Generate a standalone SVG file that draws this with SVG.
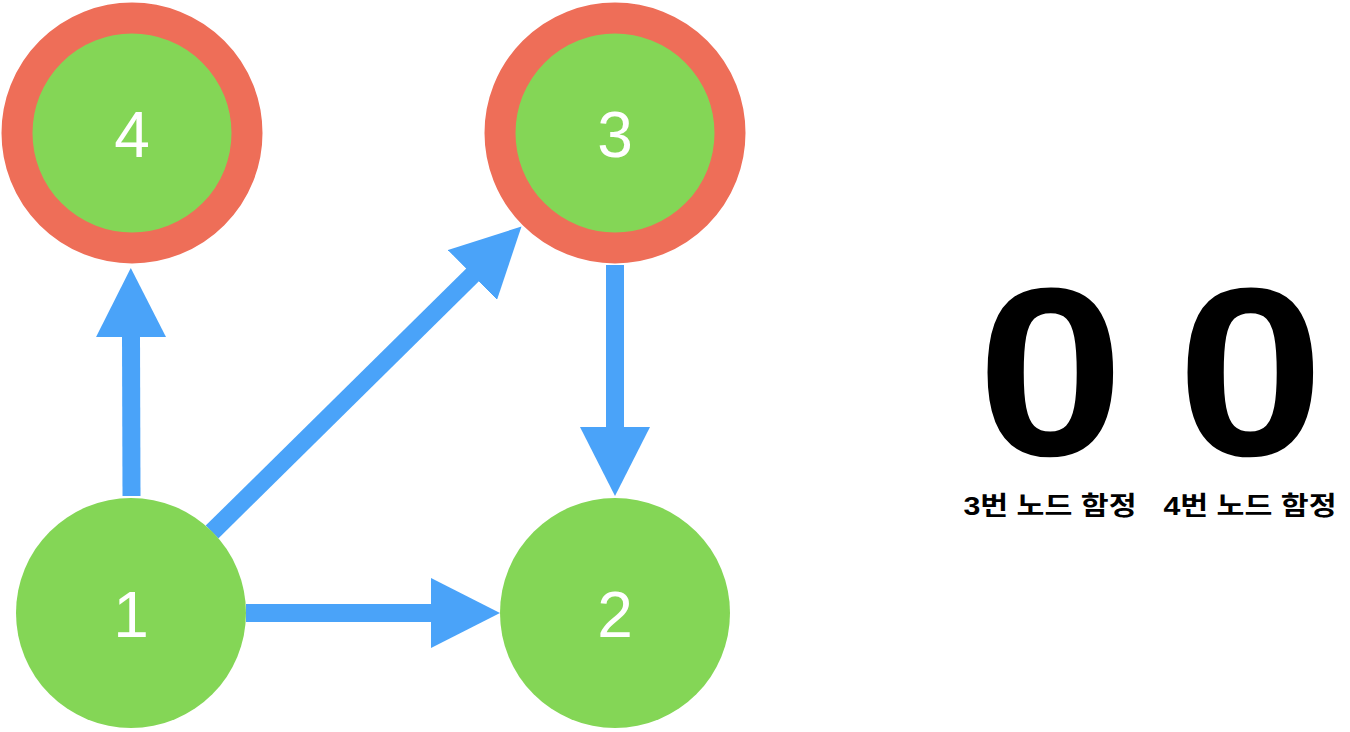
<svg xmlns="http://www.w3.org/2000/svg" width="1350" height="732" viewBox="0 0 1350 732">
<style>
.bg{fill:#ffffff}
.node{fill:#84D656}
.trap{fill:#84D656;stroke:#EE6E58;stroke-width:31}
.num{font-family:"Liberation Sans",Arial,sans-serif;font-size:64px;fill:#ffffff;text-anchor:middle}
.edge{stroke:#4AA3F9;stroke-width:18;fill:none;marker-end:url(#arrow)}
.big{font-family:"Liberation Sans",Arial,sans-serif;font-weight:bold;font-size:240px;fill:#000000;text-anchor:middle}
.lbl{font-family:"Liberation Sans","Noto Sans CJK KR",sans-serif;font-weight:bold;font-size:26px;fill:#000000;text-anchor:middle}
</style>
<defs>
<marker id="arrow" markerUnits="userSpaceOnUse" markerWidth="70" markerHeight="70" refX="1" refY="35" orient="auto" viewBox="0 0 70 70">
<path d="M0,0 L69,35 L0,70 Z" fill="#4AA3F9"/>
</marker>
</defs>
<rect class="bg" x="0" y="0" width="1350" height="732"/>
<g id="connectors">
<line class="edge" x1="131.5" y1="496" x2="131" y2="336"/>
<line class="edge" x1="212" y1="532" x2="473.1" y2="274.3"/>
<line class="edge" x1="615" y1="265" x2="615" y2="428"/>
<line class="edge" x1="246" y1="613" x2="432" y2="613"/>
</g>
<g id="node4">
<circle class="trap" cx="132" cy="133" r="115"/>
<text class="num" x="132" y="157">4</text>
</g>
<g id="node3">
<circle class="trap" cx="615" cy="133" r="115"/>
<text class="num" x="615" y="157">3</text>
</g>
<g id="node1">
<circle class="node" cx="131" cy="613" r="115"/>
<text class="num" x="131" y="637">1</text>
</g>
<g id="node2">
<circle class="node" cx="615" cy="613" r="115"/>
<text class="num" x="615" y="637">2</text>
</g>
<g id="counter3">
<text class="big" transform="translate(1050.5,455) scale(1.1,1)" x="0" y="0">0</text>
<text class="lbl" x="1050" y="515" textLength="173" lengthAdjust="spacingAndGlyphs">3번 노드 함정</text>
</g>
<g id="counter4">
<text class="big" transform="translate(1250.5,455) scale(1.1,1)" x="0" y="0">0</text>
<text class="lbl" x="1250" y="515" textLength="173" lengthAdjust="spacingAndGlyphs">4번 노드 함정</text>
</g>
</svg>
